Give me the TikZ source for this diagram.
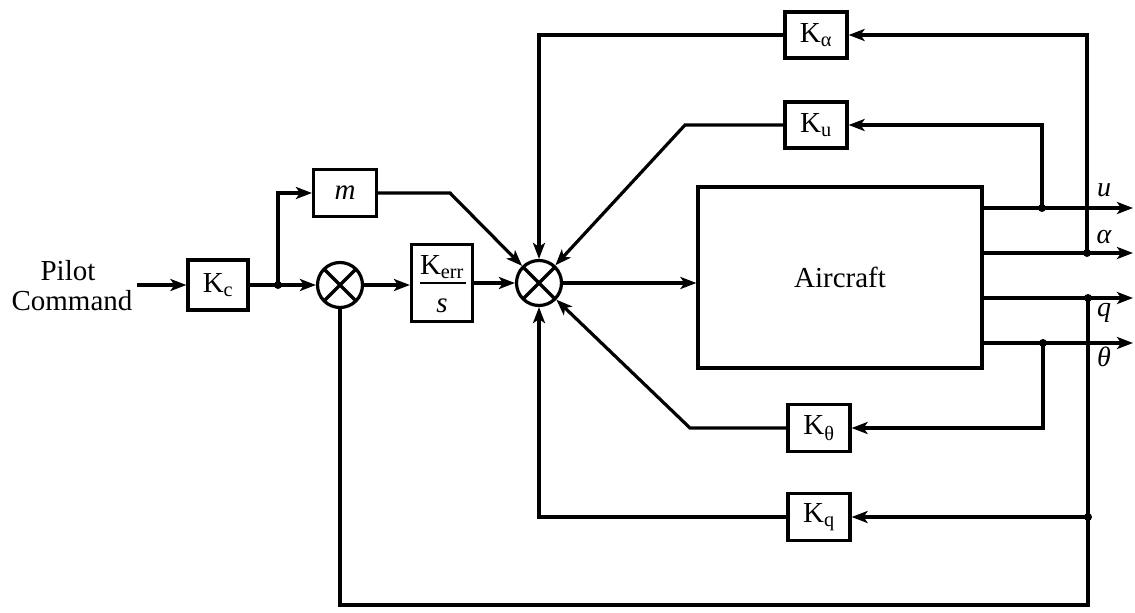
\documentclass[tikz,border=0pt]{standalone}
\usepackage{fontspec}
\setmainfont{Liberation Serif}
\usetikzlibrary{arrows.meta}
\begin{document}
\begin{tikzpicture}[x=1pt,y=-1pt, line width=3.2pt,
  font=\fontsize{29}{31}\selectfont,
  blk/.style={draw, line width=3.2pt, minimum width=62pt, minimum height=46pt, inner sep=0pt},
  sumnode/.style={circle, draw, line width=3.2pt, minimum size=45pt, inner sep=0pt,
    path picture={\draw[line width=3.2pt] (path picture bounding box.north west) -- (path picture bounding box.south east)
      (path picture bounding box.north east) -- (path picture bounding box.south west);}},
  arr/.style={-{Stealth[length=16pt,width=12pt,inset=4pt]}},
  dot/.style={circle, fill, inner sep=0pt, minimum size=8pt},
  lbl/.style={font=\fontsize{28}{30}\selectfont\itshape, inner sep=0pt}]
\useasboundingbox (0,0) rectangle (1135,613);

% nodes
\node[inner sep=0pt] (pilot) at (68,271) {Pilot};
\node[inner sep=0pt] (command) at (72,301) {Command};
\coordinate (pin) at (137,285);
\node[blk, minimum width=60pt, minimum height=50pt] (kc) at (218,285) {K\textsubscript{c}};
\node[sumnode] (s1) at (340,285) {};
\node[blk, minimum width=63pt, minimum height=47pt] (m) at (345,193) {\textit{m}};
\node[blk, minimum width=61pt, minimum height=77pt] (kerr) at (442,283) {};
\node[inner sep=0pt] (kerrnum) at (442,267) {K\textsubscript{err}};
\node[inner sep=0pt] (kerrden) at (442,306) {\textit{s}};
\draw[line width=2.4pt] (kerrnum.south west) ++(2,3) coordinate (fl) -- (fl -| kerrnum.south east);
\node[sumnode] (s2) at (539,283) {};
\node[draw, line width=3.2pt, minimum width=284pt, minimum height=181pt, inner sep=0pt] (ac) at (840,277.5) {Aircraft};
\node[blk] (ka) at (816,35) {K\textsubscript{α}};
\node[blk] (ku) at (816,125) {K\textsubscript{u}};
\node[blk, minimum height=47pt] (kt) at (819,428) {K\textsubscript{θ}};
\node[blk, minimum height=47pt] (kq) at (819,517) {K\textsubscript{q}};

% outputs
\coordinate (ou) at (1133,208);
\coordinate (oa) at (1133,253);
\coordinate (oq) at (1133,298);
\coordinate (ot) at (1133,343);
\draw[arr] (ac.east |- ou) -- (ou);
\draw[arr] (ac.east |- oa) -- (oa);
\draw[arr] (ac.east |- oq) -- (oq);
\draw[arr] (ac.east |- ot) -- (ot);
\node[lbl] (lu) at (1104,190) {u};
\node[lbl] (la) at (1104,237) {α};
\node[lbl] (lq) at (1104,313) {q};
\node[lbl] (lt) at (1104,357) {θ};

% junctions
\node[dot] (j1) at (278,285) {};
\node[dot] (ju) at (1042,208) {};
\node[dot] (ja) at (1087,253) {};
\node[dot] (jq) at (1088,298) {};
\node[dot] (jt) at (1043,343) {};
\node[dot] (jq2) at (1088,517) {};

% forward path
\draw[arr] (pin) -- (kc.west);
\draw (kc.east) -- (j1.center);
\draw[arr] (j1.center) -- (s1.west);
\draw[arr] (s1.east) -- (s1.east -| kerr.west);
\draw[arr] (kerr.east |- s2.west) -- (s2.west);
\draw[arr] (s2.east) -- (s2.east -| ac.west);
\draw[arr] (j1.center) -- (278,193) -- (m.west);
\draw[arr] (m.east) -- (450,193) -- (s2);

% feedback
\draw[arr] (ja.center) -- (1087,35) -- (ka.east);
\draw[arr] (ka.west) -- (539,35) -- (s2.north);
\draw[arr] (ju.center) -- (1042,125) -- (ku.east);
\draw[arr] (ku.west) -- (685,125) -- (s2);
\draw[arr] (jt.center) -- (1043,428) -- (kt.east);
\draw[arr] (kt.west) -- (690,428) -- (s2);
\draw[arr] (jq2.center) -- (jq2 -| kq.east);
\draw[arr] (kq.west) -- (539,517) -- (s2.south);
\draw (jq.center) -- (1088,605) -- (340,605) -- (s1.south);
\end{tikzpicture}
\end{document}
